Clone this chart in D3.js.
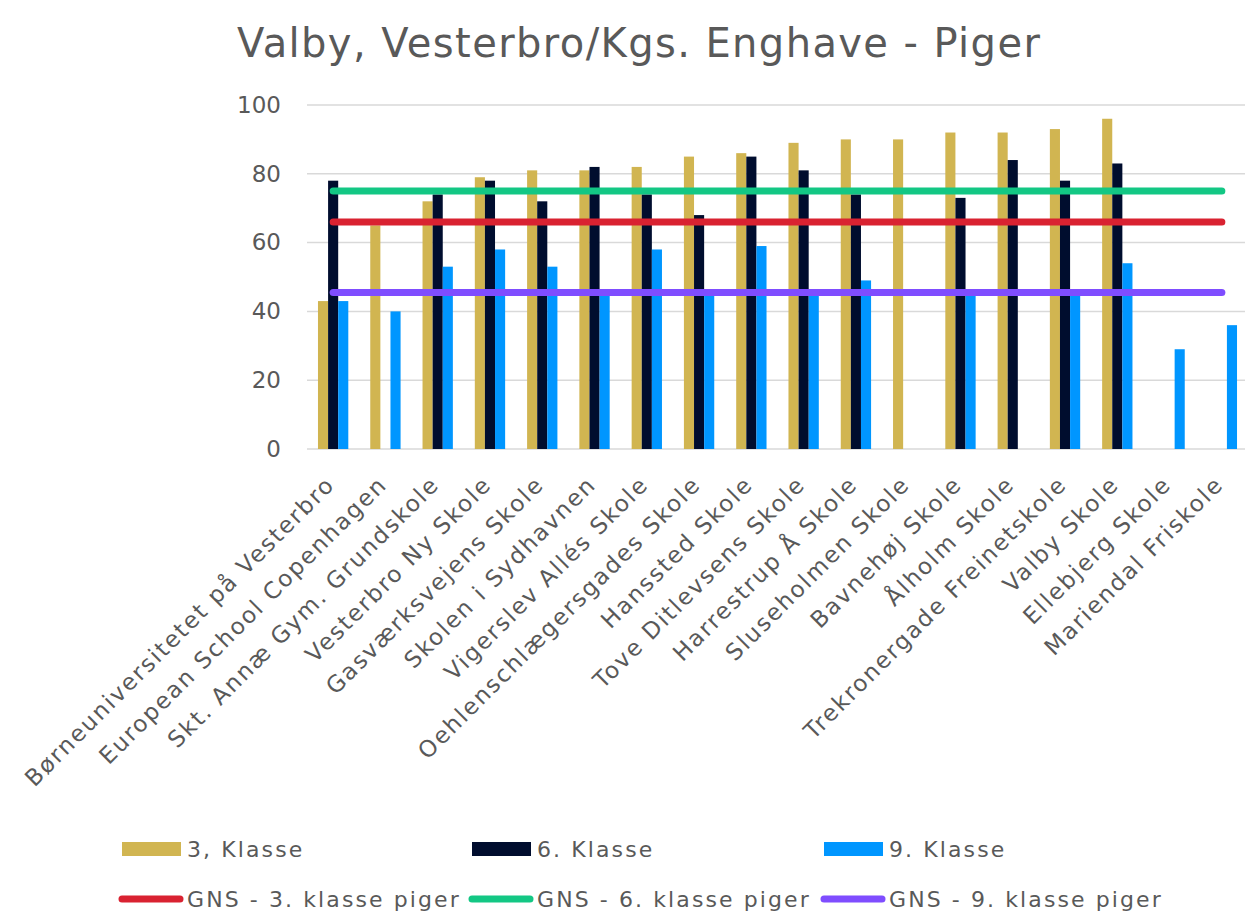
<!DOCTYPE html>
<html>
<head>
<meta charset="utf-8">
<style>
  body { margin: 0; background: #fff; }
  text { font-family: "DejaVu Sans", sans-serif; fill: #595959; }
  .grid line { stroke: #d9d9d9; stroke-width: 1.5px; }
</style>
</head>
<body>
<svg width="1247" height="918"></svg>
<script src="https://cdn.jsdelivr.net/npm/d3@7"></script>
<script>

var schools = ["Børneuniversitetet på Vesterbro", "European School Copenhagen", "Skt. Annæ Gym. Grundskole",
  "Vesterbro Ny Skole", "Gasværksvejens Skole", "Skolen i Sydhavnen", "Vigerslev Allés Skole",
  "Oehlenschlægersgades Skole", "Hanssted Skole", "Tove Ditlevsens Skole", "Harrestrup Å Skole",
  "Sluseholmen Skole", "Bavnehøj Skole", "Ålholm Skole", "Trekronergade Freinetskole", "Valby Skole",
  "Ellebjerg Skole", "Mariendal Friskole"];

var klasse3 = [43, 65, 72, 79, 81, 81, 82, 85, 86, 89, 90, 90, 92, 92, 93, 96, null, null];
var klasse6 = [78, null, 74, 78, 72, 82, 74, 68, 85, 81, 74, null, 73, 84, 78, 83, null, null];
var klasse9 = [43, 40, 53, 58, 53, 45, 58, 45, 59, 45, 49, null, 45, null, 45, 54, 29, 36];

var seriesNames = ["3, Klasse", "6. Klasse", "9. Klasse"];
var avgNames = ["GNS - 3. klasse piger", "GNS - 6. klasse piger", "GNS - 9. klasse piger"];
var avgValues = [66, 75, 45.5];
var yTicks = [0, 20, 40, 60, 80, 100];

var barColors = ["#d1b551", "#000d2e", "#0096ff"];
var lineColors = ["#d92231", "#13c784", "#7f4dff"];

var svg = d3.select("svg");

var x0 = d3.scaleBand().domain(schools).range([307, 1248]).paddingInner(0.42).paddingOuter(0.21);
var x1 = d3.scaleBand().domain(seriesNames).range([0, x0.bandwidth()]);
var y = d3.scaleLinear().domain([0, 100]).range([449, 105]);

// title
svg.append("text")
    .attr("x", 237).attr("y", 57)
    .style("font-size", "40px")
    .style("letter-spacing", "1.4px")
    .text("Valby, Vesterbro/Kgs. Enghave - Piger");

// gridlines
svg.append("g").attr("class", "grid")
  .selectAll("line").data(yTicks).enter().append("line")
    .attr("x1", 307).attr("x2", 1245)
    .attr("y1", function(d) { return y(d); })
    .attr("y2", function(d) { return y(d); });

// y axis labels
var yAxis = svg.append("g")
    .attr("transform", "translate(281,0)")
    .call(d3.axisLeft(y).tickValues(yTicks).tickSize(0).tickPadding(0));
yAxis.select(".domain").remove();
yAxis.selectAll("text").style("font-size", "23px").style("font-family", "DejaVu Sans").attr("fill", "#595959");

// bars
var rows = schools.map(function(s, i) {
  return { school: s, vals: [klasse3[i], klasse6[i], klasse9[i]] };
});

var groups = svg.append("g").selectAll("g").data(rows).enter().append("g")
    .attr("transform", function(d) { return "translate(" + x0(d.school) + ",0)"; });

groups.selectAll("rect")
  .data(function(d) {
    return d.vals.map(function(v, k) { return { key: seriesNames[k], value: v, k: k }; })
      .filter(function(e) { return e.value != null; });
  })
  .enter().append("rect")
    .attr("x", function(d) { return x1(d.key); })
    .attr("width", x1.bandwidth())
    .attr("y", function(d) { return y(d.value); })
    .attr("height", function(d) { return y(0) - y(d.value); })
    .attr("fill", function(d) { return barColors[d.k]; });

// average lines
var firstC = x0(schools[0]) + x0.bandwidth() / 2;
var lastC = x0(schools[schools.length - 1]) + x0.bandwidth() / 2;
svg.append("g").selectAll("line").data(avgValues).enter().append("line")
    .attr("x1", firstC).attr("x2", lastC)
    .attr("y1", function(d) { return y(d); })
    .attr("y2", function(d) { return y(d); })
    .attr("stroke", function(d, i) { return lineColors[i]; })
    .attr("stroke-width", 7)
    .attr("stroke-linecap", "round");

// x labels, rotated
svg.append("g").selectAll("text").data(schools).enter().append("text")
    .attr("transform", function(d) {
      return "translate(" + (x0(d) + x0.bandwidth() / 2 + 3) + ",486) rotate(-45)";
    })
    .attr("text-anchor", "end")
    .style("font-size", "23px")
    .style("letter-spacing", "1.9px")
    .text(function(d) { return d; });

// legend
var legX = [118, 468, 820];
var leg1 = svg.append("g").selectAll("g").data(seriesNames).enter().append("g")
    .attr("transform", function(d, i) { return "translate(" + legX[i] + ",842)"; });
leg1.append("rect").attr("x", 4).attr("width", 59).attr("height", 14)
    .attr("fill", function(d, i) { return barColors[i]; });
leg1.append("text").attr("x", 69).attr("y", 15)
    .style("font-size", "22px").style("letter-spacing", "2.1px")
    .text(function(d) { return d; });

var leg2 = svg.append("g").selectAll("g").data(avgNames).enter().append("g")
    .attr("transform", function(d, i) { return "translate(" + legX[i] + ",899)"; });
leg2.append("line").attr("x1", 4).attr("x2", 62).attr("y1", 0).attr("y2", 0)
    .attr("stroke", function(d, i) { return lineColors[i]; })
    .attr("stroke-width", 7).attr("stroke-linecap", "round");
leg2.append("text").attr("x", 69).attr("y", 8)
    .style("font-size", "22px").style("letter-spacing", "2.1px")
    .text(function(d) { return d; });

</script>
</body>
</html>
